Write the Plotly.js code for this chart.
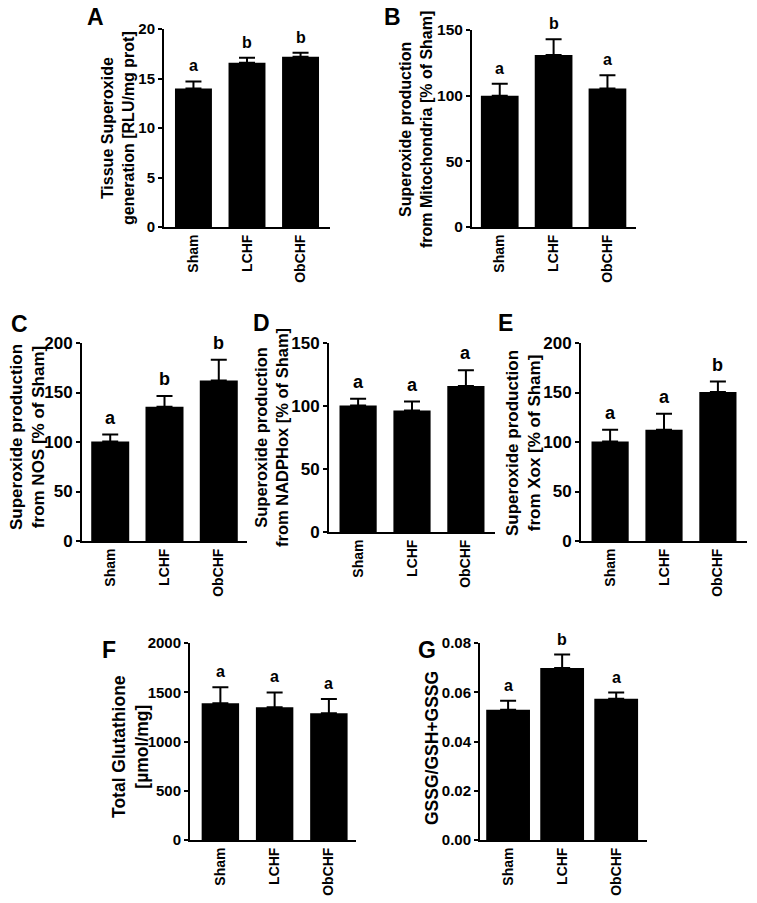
<!DOCTYPE html>
<html>
<head>
<meta charset="utf-8">
<script src="https://cdn.plot.ly/plotly-3.0.1.min.js"></script>
<style>
  body { margin: 0; background: #fff; }
  #chart { width: 757px; height: 903px; }
</style>
</head>
<body>
<div id="chart"></div>
<script>
const groups = ['Sham', 'LCHF', 'ObCHF'];

// A: tissue superoxide generation
const tissueMean = [14.0, 16.6, 17.2];
const tissueSem = [0.7, 0.5, 0.4];
const tissueSig = ['a', 'b', 'b'];

// B: from mitochondria
const mitoMean = [100, 131, 105.5];
const mitoSem = [9, 12, 10];
const mitoSig = ['a', 'b', 'a'];

// C: from NOS
const nosMean = [100.5, 135.5, 162];
const nosSem = [7, 11, 21];
const nosSig = ['a', 'b', 'b'];

// D: from NADPHox
const nadphMean = [100.3, 96.5, 115.8];
const nadphSem = [5.5, 7, 12.5];
const nadphSig = ['a', 'a', 'a'];

// E: from Xox
const xoxMean = [100.5, 112.5, 150.5];
const xoxSem = [12, 16, 10.5];
const xoxSig = ['a', 'a', 'b'];

// F: total glutathione
const gshMean = [1388, 1348, 1288];
const gshSem = [163, 150, 143];
const gshSig = ['a', 'a', 'a'];

// G: GSSG/GSH+GSSG ratio
const ratioMean = [0.0529, 0.0698, 0.0574];
const ratioSem = [0.0036, 0.0055, 0.0025];
const ratioSig = ['a', 'b', 'a'];

const W = 757, H = 903;
const FONT = '"Liberation Sans", Arial, Helvetica, sans-serif';
function px(x) { return x / W; }
function py(y) { return 1 - y / H; }

// pixel boxes: [left, right, top, bottom]
const panels = [
  {label: 'A', mean: tissueMean, sem: tissueSem, sig: tissueSig, box: [164, 330, 29, 227],
   xr: [-0.55, 2.55], ymax: 20, dtick: 5, bw: 0.69, title: 'Tissue Superoxide<br>generation [RLU/mg prot]',
   tpos: [118, 128], tsize: 16, ticksize: 15, lpos: [95, 17], lettersize: 16},
  {label: 'B', mean: mitoMean, sem: mitoSem, sig: mitoSig, box: [472, 636, 30, 227],
   xr: [-0.515, 2.53], ymax: 150, dtick: 50, bw: 0.7, title: 'Superoxide production<br>from Mitochondria [% of Sham]',
   tpos: [416, 130], tsize: 16, ticksize: 15.5, lpos: [392, 17], lettersize: 16},
  {label: 'C', mean: nosMean, sem: nosSem, sig: nosSig, box: [82, 247, 343, 541],
   xr: [-0.52, 2.52], ymax: 200, dtick: 50, bw: 0.7, title: 'Superoxide production<br>from NOS [% of Sham]',
   tpos: [27, 437], tsize: 17, ticksize: 17, lpos: [19, 324], lettersize: 18},
  {label: 'D', mean: nadphMean, sem: nadphSem, sig: nadphSig, box: [329, 495, 343, 532],
   xr: [-0.54, 2.54], ymax: 150, dtick: 50, bw: 0.69, title: 'Superoxide production<br>from NADPHox [% of Sham]',
   tpos: [271, 438], tsize: 16.5, ticksize: 17, lpos: [261, 323], lettersize: 18},
  {label: 'E', mean: xoxMean, sem: xoxSem, sig: xoxSig, box: [581, 747, 343, 541],
   xr: [-0.54, 2.54], ymax: 200, dtick: 50, bw: 0.69, title: 'Superoxide production<br>from Xox [% of Sham]',
   tpos: [524, 443], tsize: 17, ticksize: 17, lpos: [505, 323], lettersize: 18},
  {label: 'F', mean: gshMean, sem: gshSem, sig: gshSig, box: [190, 356, 643, 840],
   xr: [-0.56, 2.5], ymax: 2000, dtick: 500, bw: 0.69, title: 'Total Glutathione<br>[µmol/mg]',
   tpos: [130, 747], tsize: 17.5, ticksize: 15, lpos: [109, 650], lettersize: 16},
  {label: 'G', mean: ratioMean, sem: ratioSem, sig: ratioSig, box: [480, 647, 643, 840],
   xr: [-0.52, 2.57], ymax: 0.08, dtick: 0.02, bw: 0.81, title: 'GSSG/GSH+GSSG',
   tpos: [432, 748], tsize: 17.5, ticksize: 15, lpos: [427, 650], lettersize: 16, fmt: '.2f'},
];

var traces = [];
var annotations = [];
var layout = {
  width: W,
  height: H,
  margin: {l: 0, r: 0, t: 0, b: 0},
  paper_bgcolor: 'white',
  plot_bgcolor: 'white',
  showlegend: false,
  font: {family: FONT, color: 'black'},
};

panels.forEach(function(p, i) {
  const n = i + 1;
  const xa = n === 1 ? 'x' : 'x' + n;
  const ya = n === 1 ? 'y' : 'y' + n;

  traces.push({
    type: 'bar',
    x: groups,
    y: p.mean,
    xaxis: xa,
    yaxis: ya,
    width: p.bw,
    marker: {color: 'black', line: {width: 0}},
    error_y: {
      type: 'data', symmetric: false, array: p.sem, arrayminus: [0, 0, 0],
      color: 'black', thickness: 2, width: 8
    },
    hoverinfo: 'skip'
  });

  layout['xaxis' + (n === 1 ? '' : n)] = {
    domain: [px(p.box[0]), px(p.box[1])],
    anchor: ya,
    range: p.xr,
    type: 'category',
    showline: true, linecolor: 'black', linewidth: 2,
    showgrid: false, zeroline: false,
    ticks: '', tickangle: -90,
    tickfont: {family: FONT, size: 14, color: 'black', weight: 'bold'},
    fixedrange: true
  };
  layout['yaxis' + (n === 1 ? '' : n)] = {
    domain: [py(p.box[3]), py(p.box[2])],
    anchor: xa,
    range: [0, p.ymax],
    tick0: 0, dtick: p.dtick,
    tickformat: p.fmt || '',
    showline: true, linecolor: 'black', linewidth: 2,
    showgrid: false, zeroline: false,
    ticks: 'outside', ticklen: 4, tickwidth: 2, tickcolor: 'black',
    tickfont: {family: FONT, size: p.ticksize, color: 'black', weight: 'bold'},
    fixedrange: true
  };

  // significance letters over the error bars
  for (let j = 0; j < groups.length; j++) {
    annotations.push({
      xref: xa, yref: ya, x: groups[j], y: p.mean[j] + p.sem[j],
      text: p.sig[j], showarrow: false, yanchor: 'bottom', yshift: 5,
      font: {family: FONT, size: p.lettersize, color: 'black', weight: 'bold'}
    });
  }

  // y axis title
  annotations.push({
    xref: 'paper', yref: 'paper', x: px(p.tpos[0]), y: py(p.tpos[1]),
    xanchor: 'center', yanchor: 'middle', textangle: -90,
    text: p.title, showarrow: false,
    font: {family: FONT, size: p.tsize, color: 'black', weight: 'bold'}
  });

  // panel letter
  annotations.push({
    xref: 'paper', yref: 'paper', x: px(p.lpos[0]), y: py(p.lpos[1]),
    xanchor: 'center', yanchor: 'middle',
    text: p.label, showarrow: false,
    font: {family: FONT, size: 23, color: 'black', weight: 'bold'}
  });
});

layout.annotations = annotations;

Plotly.newPlot('chart', traces, layout, {staticPlot: true});
</script>
</body>
</html>
